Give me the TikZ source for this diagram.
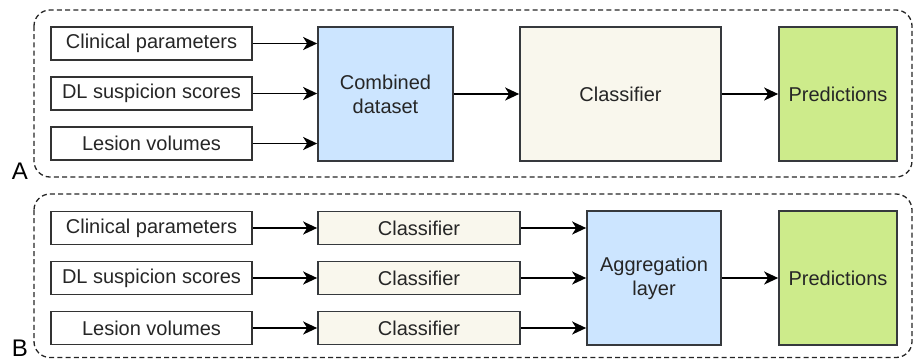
\documentclass[tikz,border=0pt]{standalone}
\usepackage{fontspec}
\setmainfont{Liberation Sans}
\usetikzlibrary{arrows.meta}
\definecolor{edgegray}{HTML}{36393D}
\definecolor{mergeblue}{HTML}{CCE5FF}
\definecolor{clfcream}{HTML}{F9F7ED}
\definecolor{predgreen}{HTML}{CDEB8B}
\begin{document}
\begin{tikzpicture}[
    x=0.5pt, y=-0.5pt,
    every node/.style={font=\fontsize{10}{12}\selectfont, text=black!85, inner sep=0pt},
    feature/.style={rectangle, draw=black!80, fill=white, line width=0.85pt, minimum width=100.5pt, minimum height=16.5pt},
    merge/.style={rectangle, draw=edgegray, fill=mergeblue, line width=0.85pt, minimum width=67.5pt, minimum height=67pt, align=center},
    clf/.style={rectangle, draw=edgegray, fill=clfcream, line width=0.85pt, minimum height=16.5pt},
    pred/.style={rectangle, draw=edgegray, fill=predgreen, line width=0.85pt, minimum width=59pt, minimum height=67pt},
    panel/.style={draw=black!85, line width=0.65pt, dash pattern=on 2.5pt off 1.6pt, rounded corners=8pt},
    tag/.style={font=\fontsize{12}{14}\selectfont, text=black},
    arrow/.style={-{Stealth[length=7pt,width=6.5pt,inset=2pt]}, line width=0.9pt, black}
]
\useasboundingbox (0,0) rectangle (913,359);
% panels
\draw[panel] (34,10) rectangle (912,177);
\draw[panel] (34,194) rectangle (912,357.5);
\node[tag] (tagA) at (20,171) {A};
\node[tag] (tagB) at (20,348) {B};
% A: combined dataset
\node[feature] (clinA) at (151.5,43.5) {Clinical parameters};
\node[feature] (dlA) at (151.5,93.5) {DL suspicion scores};
\node[feature] (lesA) at (151.5,143.5) {Lesion volumes};
\node[merge] (comb) at (385.5,94) {Combined\\dataset};
\node[clf, minimum width=100.5pt, minimum height=67pt] (clfA) at (620.5,94) {Classifier};
\node[pred] (predA) at (838,94) {Predictions};
\draw[arrow] (clinA) -- (clinA -| comb.west);
\draw[arrow] (dlA) -- (dlA -| comb.west);
\draw[arrow] (lesA) -- (lesA -| comb.west);
\draw[arrow] (comb) -- (clfA);
\draw[arrow] (clfA) -- (predA);
% B: one classifier per feature group
\node[feature] (clinB) at (151.5,228) {Clinical parameters};
\node[feature] (dlB) at (151.5,278) {DL suspicion scores};
\node[feature] (lesB) at (151.5,328) {Lesion volumes};
\node[clf, minimum width=101pt] (clf1) at (419,228) {Classifier};
\node[clf, minimum width=101pt] (clf2) at (419,278) {Classifier};
\node[clf, minimum width=101pt] (clf3) at (419,328) {Classifier};
\node[merge, minimum width=67pt] (agg) at (654,278) {Aggregation\\layer};
\node[pred] (predB) at (838,278) {Predictions};
\draw[arrow] (clinB) -- (clf1);
\draw[arrow] (dlB) -- (clf2);
\draw[arrow] (lesB) -- (clf3);
\draw[arrow] (clf1) -- (clf1 -| agg.west);
\draw[arrow] (clf2) -- (clf2 -| agg.west);
\draw[arrow] (clf3) -- (clf3 -| agg.west);
\draw[arrow] (agg) -- (predB);
\end{tikzpicture}
\end{document}
